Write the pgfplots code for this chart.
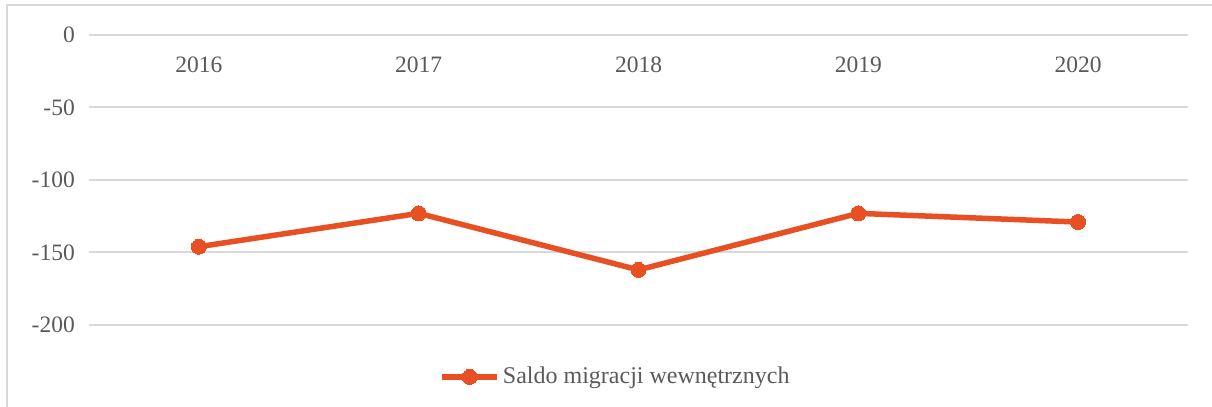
\documentclass[border=0pt]{standalone}
\usepackage{pgfplots}
\pgfplotsset{compat=1.18}
\usepackage{fontspec}
\setmainfont{Liberation Serif}
\definecolor{ser}{HTML}{E84F23}
\definecolor{gridc}{HTML}{D9D9D9}
\definecolor{txt}{HTML}{595959}
\begin{document}
\fontsize{11.75pt}{14pt}\selectfont
\begin{tikzpicture}
\useasboundingbox (-44.5pt,-41pt) rectangle (561.5pt,162.5pt);
\draw[gridc, line width=1pt] (-41pt,-41pt) -- (-41pt,159.75pt) -- (561.5pt,159.75pt);
\begin{axis}[
  at={(0,0)}, anchor=south west,
  scale only axis,
  width=549.5pt, height=145pt,
  xmin=-0.5, xmax=4.5,
  ymin=-200, ymax=0,
  axis line style={draw=none},
  major tick length=0pt,
  xtick={0,1,2,3,4},
  xticklabels={2016,2017,2018,2019,2020},
  xticklabel pos=upper,
  xticklabel style={anchor=north, yshift=-7pt, text=txt, font=\fontsize{11.75pt}{14pt}\selectfont},
  ytick={-200,-150,-100,-50,0},
  yticklabels={-200,-150,-100,-50,0},
  yticklabel style={text=txt, xshift=-3pt, font=\fontsize{11.75pt}{14pt}\selectfont},
  ymajorgrids,
  grid style={gridc, line width=1pt},
  clip=false,
  legend style={at={(0.4795,-0.179)}, anchor=center, draw=none, fill=none,
    font=\fontsize{12pt}{14pt}\selectfont, text=txt,
    inner sep=0pt, outer sep=0pt, nodes={inner sep=1.5pt}},
  legend cell align=left,
  legend image code/.code={
    \draw[#1, mark repeat=2, mark phase=2] plot coordinates {(0pt,0pt) (13.75pt,0pt) (27.5pt,0pt)};
  },
]
\addplot[color=ser, line width=2.75pt, mark=*, mark size=3.75pt, mark options={solid, fill=ser, draw=ser, line width=0pt}]
  coordinates {(0,-146) (1,-123) (2,-162) (3,-123) (4,-129)};
\addlegendentry{Saldo migracji wewnętrznych}
\end{axis}
\end{tikzpicture}
\end{document}
